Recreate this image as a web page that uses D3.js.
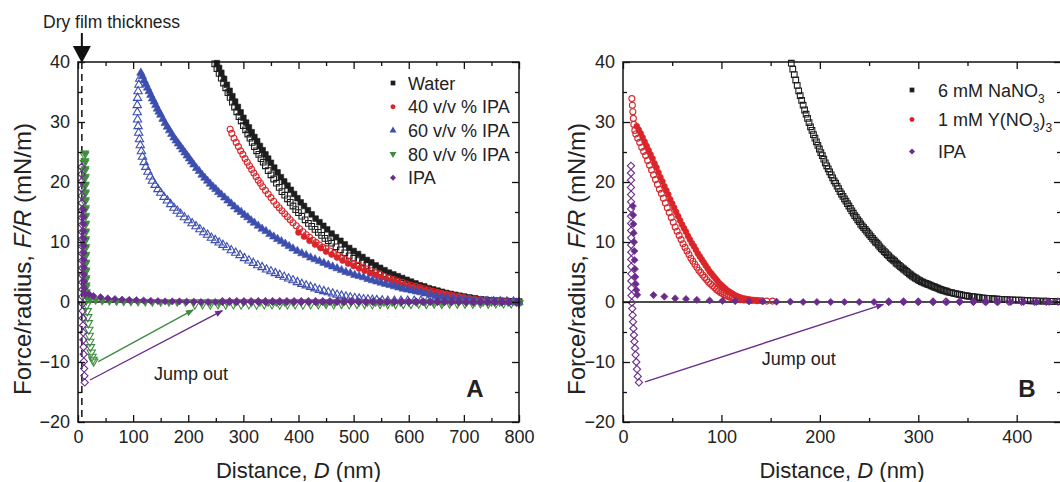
<!DOCTYPE html>
<html>
<head>
<meta charset="utf-8">
<script src="https://cdn.jsdelivr.net/npm/d3@7"></script>
<style>
  body { margin: 0; background: #fff; }
  svg { display: block; }
  text { font-family: "Liberation Sans", Arial, Helvetica, sans-serif; fill: #222; }
</style>
</head>
<body>
<script>
// ---------- data, panel A (D in nm, F/R in mN/m) ----------
var waterApproach = [[252,39.8],[256,39.0],[260,38.2],[265,37.2],[270,36.2],[275,35.2],[280,34.3],[285,33.4],[290,32.5],[295,31.6],[300,30.7],[305,29.9],[310,29.1],[315,28.3],[320,27.5],[325,26.8],[330,26.0],[335,25.3],[340,24.6],[345,23.9],[350,23.2],[356,22.4],[362,21.6],[368,20.8],[374,20.1],[380,19.4],[386,18.7],[392,18.0],[398,17.3],[404,16.6],[410,16.0],[417,15.3],[424,14.6],[431,13.9],[438,13.3],[445,12.7],[452,12.1],[460,11.4],[468,10.8],[476,10.2],[484,9.6],[492,9.0],[500,8.5],[508,8.0],[516,7.5],[524,7.0],[532,6.6],[540,6.1],[548,5.7],[556,5.3],[564,4.9],[572,4.6],[580,4.3],[588,4.0],[596,3.7],[604,3.4],[612,3.1],[620,2.8],[628,2.6],[636,2.3],[644,2.1],[652,1.9],[660,1.7],[668,1.5],[676,1.35],[684,1.2],[692,1.05],[700,0.9],[710,0.75],[720,0.6],[730,0.45],[740,0.35],[750,0.25],[760,0.2],[770,0.15],[780,0.1],[790,0.05],[800,0.05]];
var waterRetract = [[248,39.7],[252,38.9],[256,38.1],[260,37.3],[264,36.5],[268,35.7],[272,34.9],[276,34.1],[280,33.3],[284,32.5],[288,31.7],[292,30.9],[296,30.2],[300,29.4],[304,28.7],[308,28.0],[312,27.3],[316,26.6],[320,25.9],[324,25.2],[328,24.6],[332,23.9],[336,23.3],[340,22.7],[345,21.9],[350,21.2],[355,20.5],[360,19.8],[365,19.1],[370,18.4],[375,17.8],[380,17.2],[385,16.6],[390,16.0],[395,15.4],[400,14.9],[406,14.3],[412,13.7],[418,13.1],[424,12.6],[430,12.1],[436,11.6],[442,11.1],[448,10.6],[454,10.2],[460,9.8],[468,9.2],[476,8.7],[484,8.2],[492,7.7],[500,7.3],[508,6.9],[516,6.5],[524,6.1],[532,5.7],[540,5.4],[548,5.0],[556,4.7],[564,4.4],[572,4.1],[580,3.8],[588,3.5],[596,3.3],[604,3.0],[612,2.8],[620,2.5],[628,2.3],[636,2.1],[644,1.9],[652,1.7],[660,1.5],[668,1.35],[676,1.2],[684,1.05],[692,0.9],[700,0.8],[710,0.65],[720,0.5],[730,0.4],[740,0.3],[750,0.25],[760,0.2],[770,0.15],[780,0.1],[790,0.05],[800,0]];
var ipa40Approach = [[400,11.6],[410,10.9],[420,10.2],[430,9.6],[440,9.0],[450,8.4],[460,7.9],[470,7.4],[480,6.9],[490,6.4],[500,6.0],[510,5.6],[520,5.2],[530,4.8],[540,4.5],[550,4.1],[560,3.8],[570,3.5],[580,3.2],[590,2.9],[600,2.7],[610,2.4],[620,2.2],[630,2.0],[640,1.8],[650,1.6],[660,1.4],[670,1.2],[680,1.05],[690,0.9],[700,0.75],[710,0.6],[720,0.5],[730,0.4],[740,0.3],[750,0.2],[760,0.15],[770,0.1],[780,0.05],[790,0],[800,0]];
var ipa40Retract = [[276,28.8],[279,28.1],[283,27.3],[287,26.6],[291,25.9],[295,25.2],[299,24.6],[303,23.9],[307,23.3],[311,22.7],[315,22.1],[319,21.5],[323,20.9],[327,20.3],[331,19.8],[335,19.2],[340,18.6],[345,18.0],[350,17.4],[355,16.8],[360,16.2],[365,15.7],[370,15.2],[375,14.7],[380,14.2],[385,13.7],[390,13.2],[396,12.7],[402,12.2],[408,11.7],[414,11.2],[420,10.8],[426,10.3],[432,9.9],[438,9.5],[444,9.1],[450,8.9],[457,8.5],[464,8.1],[471,7.8],[478,7.4],[485,7.1],[492,6.8],[500,6.4],[508,6.1],[516,5.8],[524,5.5],[532,5.2],[540,4.9],[548,4.6],[556,4.3],[564,4.0],[572,3.8],[580,3.5],[588,3.3],[596,3.0],[604,2.8],[612,2.6],[620,2.4],[628,2.2],[636,2.0],[644,1.8],[652,1.6],[660,1.45],[668,1.3],[676,1.15],[684,1.0],[692,0.85],[700,0.7],[710,0.55],[720,0.45],[730,0.35],[740,0.25],[750,0.2],[760,0.15],[770,0.1],[780,0.05],[790,0],[800,0]];
var ipa60Approach = [[114,38.2],[117,37.6],[120,36.9],[123,36.3],[126,35.7],[129,35.1],[132,34.5],[135,33.9],[138,33.4],[141,32.8],[144,32.2],[147,31.7],[150,31.2],[154,30.5],[158,29.8],[162,29.2],[166,28.6],[170,28.0],[174,27.4],[178,26.9],[182,26.4],[186,25.9],[190,25.4],[194,24.9],[198,24.4],[202,23.9],[206,23.4],[210,22.9],[215,22.3],[220,21.8],[225,21.2],[230,20.7],[235,20.2],[240,19.7],[245,19.2],[250,18.8],[255,18.3],[260,17.9],[266,17.4],[272,16.9],[278,16.4],[284,15.9],[290,15.4],[296,15.0],[302,14.5],[308,14.1],[314,13.6],[320,13.2],[327,12.7],[334,12.2],[341,11.8],[348,11.3],[355,10.9],[362,10.5],[369,10.1],[376,9.7],[383,9.3],[390,8.9],[398,8.5],[406,8.1],[414,7.8],[422,7.4],[430,7.1],[438,6.8],[446,6.5],[454,6.2],[462,5.9],[470,5.6],[478,5.3],[486,5.0],[494,4.8],[502,4.5],[510,4.3],[518,4.1],[526,3.8],[534,3.6],[542,3.4],[550,3.2],[558,3.0],[566,2.8],[574,2.6],[582,2.4],[590,2.2],[598,2.05],[606,1.9],[614,1.75],[622,1.6],[630,1.4],[640,1.2],[650,1.0],[660,0.85],[670,0.7],[680,0.55],[690,0.45],[700,0.35],[710,0.3],[720,0.25],[730,0.2],[740,0.15],[750,0.1],[760,0.05],[770,0.05],[780,0],[790,0],[800,0]];
var ipa60Retract = [[112,37.2],[110.5,36.2],[109,35.1],[108,34],[107.5,32.8],[107.5,31.6],[108,30.4],[109,29.3],[110,28.2],[111.5,27.1],[113,26.1],[115,25.1],[117,24.2],[120,23.3],[123,22.5],[127,21.7],[131,20.9],[135,20.2],[140,19.5],[145,18.8],[150,18.2],[156,17.5],[162,16.9],[168,16.3],[174,15.7],[180,15.2],[186,14.7],[193,14.1],[200,13.6],[207,13.1],[214,12.6],[221,12.1],[228,11.6],[235,11.2],[242,10.7],[249,10.3],[256,9.9],[263,9.5],[270,9.1],[278,8.6],[286,8.2],[294,7.8],[302,7.3],[310,6.9],[318,6.5],[326,6.1],[334,5.8],[342,5.4],[350,5.1],[358,4.8],[366,4.5],[374,4.2],[382,3.9],[390,3.6],[398,3.3],[406,3.0],[414,2.75],[422,2.5],[430,2.25],[438,2.0],[446,1.8],[454,1.6],[462,1.4],[470,1.2],[478,1.05],[486,0.9],[494,0.75],[502,0.65],[510,0.55],[518,0.45],[526,0.4],[534,0.35],[542,0.3],[552,0.25],[562,0.2],[574,0.2],[586,0.2],[598,0.2],[610,0.2],[622,0.2],[634,0.2],[646,0.2],[658,0.15],[670,0.15],[682,0.15],[694,0.15],[706,0.1],[718,0.1],[730,0.1],[742,0.1],[754,0.1],[766,0.1],[778,0.05],[790,0.05]];
var ipa80Approach = [[12.5,24.8],[12.7,23.5],[12.9,22.2],[13,20.9],[13.1,19.6],[13.2,18.3],[13.3,17],[13.4,15.7],[13.5,14.4],[13.6,13.1],[13.7,11.8],[13.8,10.5],[13.9,9.2],[14,7.9],[14.1,6.6],[14.2,5.3],[14.4,4.0],[14.6,2.8],[15,1.7],[16,0.9],[22,0.5],[32,0.35],[44,0.25],[57,0.2],[70,0.15],[83,0.1],[96,0.1],[109,0.05],[122,0.05],[135,0],[150,0],[165,0],[180,0],[195,0],[210,0],[225,0],[240,0],[255,0],[270,0],[285,0],[300,0],[315,0],[330,0],[345,0],[360,0],[375,0],[390,0],[405,0],[420,0],[435,0],[450,0],[465,0],[480,0],[495,0],[510,0],[525,0],[540,0],[555,0],[570,0],[585,0],[600,0],[615,0],[630,0],[645,0],[660,0],[675,0],[690,0],[705,0],[720,0],[735,0],[750,0],[765,0],[780,0],[795,0]];
var ipa80Retract = [[11.5,24.5],[11.6,23.2],[11.7,21.9],[11.8,20.6],[11.9,19.3],[12,18],[12.1,16.7],[12.2,15.4],[12.3,14.1],[12.4,12.8],[12.5,11.5],[12.6,10.2],[12.7,8.9],[12.8,7.6],[12.9,6.3],[13.1,5.0],[13.3,3.7],[13.6,2.4],[14.2,1.2],[15,0.3],[15.8,-0.5],[16.8,-1.5],[17.8,-2.5],[18.8,-3.5],[19.6,-4.6],[20.4,-5.6],[21.4,-6.6],[22.6,-7.5],[24,-8.4],[25.5,-9.1],[27,-9.6],[28.5,-9.9],[212,-0.4],[226,-0.35],[240,-0.4],[254,-0.35],[268,-0.4],[282,-0.35],[296,-0.4],[310,-0.35],[324,-0.4],[338,-0.35],[352,-0.35],[366,-0.4],[380,-0.35],[394,-0.35],[408,-0.4],[422,-0.35],[436,-0.35],[450,-0.3],[464,-0.35],[478,-0.3],[492,-0.35],[506,-0.3],[520,-0.3],[534,-0.35],[548,-0.3],[562,-0.3],[576,-0.3],[590,-0.3],[604,-0.3],[618,-0.25],[632,-0.3],[646,-0.25],[660,-0.3],[674,-0.25],[688,-0.25],[702,-0.25],[716,-0.25],[730,-0.2],[744,-0.25],[758,-0.2],[772,-0.2],[786,-0.2],[800,-0.2]];
var ipaApproachA = [[9.8,15.4],[9.9,14.2],[10,13],[10.1,11.8],[10.2,10.6],[10.3,9.4],[10.4,8.2],[10.5,7],[10.6,5.8],[10.8,4.6],[11,3.4],[11.3,2.3],[11.8,1.4],[20,1.3],[28,1.0],[41,0.8],[54,0.6],[67,0.5],[80,0.4],[93,0.35],[106,0.3],[119,0.25],[132,0.2],[145,0.15],[158,0.1],[171,0.1],[184,0.1],[197,0.05],[210,0.05],[223,0],[236,0],[249,0],[262,0],[275,0],[288,0],[301,0],[314,0],[327,0],[340,0],[353,0],[366,0],[379,0],[392,0],[405,0],[418,0],[431,0],[444,0],[457,0],[470,0],[483,0],[496,0],[509,0],[522,0],[535,0],[548,0],[561,0],[574,0],[587,0],[600,0],[613,0],[626,0],[639,0],[652,0],[665,0],[678,0],[691,0],[704,0],[717,0],[730,0],[743,0],[756,0],[769,0],[782,0],[795,0]];
var ipaRetractA = [[6.5,22.5],[6.6,21.3],[6.7,20.1],[6.8,18.9],[6.9,17.7],[7,16.5],[7,15.3],[7.1,14.1],[7.1,12.9],[7.2,11.7],[7.2,10.5],[7.3,9.3],[7.3,8.1],[7.4,6.9],[7.5,5.7],[7.6,4.5],[7.7,3.3],[7.8,2.1],[8,0.9],[8.2,-0.3],[8.5,-1.5],[8.8,-2.7],[9.1,-3.9],[9.4,-5.1],[9.7,-6.3],[10,-7.5],[10.3,-8.7],[10.7,-9.9],[11.1,-11.1],[11.6,-12.3],[12.2,-13.4],[262,0.1],[275,0.1],[288,0.1],[301,0.1],[314,0.1],[327,0.1],[340,0.1],[353,0.1],[366,0.1],[379,0.1],[392,0.1],[405,0.1],[418,0.1],[431,0.1],[444,0.1],[457,0.1],[470,0.1],[483,0.1],[496,0.1],[509,0.05],[522,0.05],[535,0.05],[548,0.05],[561,0.05],[574,0.05],[587,0.05],[600,0.05],[613,0.05],[626,0.05],[639,0.05],[652,0.05],[665,0.05],[678,0.05],[691,0.05],[704,0],[717,0],[730,0],[743,0],[756,0],[769,0],[782,0],[795,0]];

// ---------- data, panel B ----------
var nano3Retract = [[171,39.8],[174,37.9],[177,36.1],[180,34.4],[183,32.8],[186,31.3],[189,29.9],[192,28.6],[195,27.3],[198,26.1],[201,24.9],[204,23.8],[207,22.7],[210,21.7],[213,20.7],[216,19.8],[219,18.9],[222,18.0],[225,17.2],[228,16.4],[231,15.6],[234,14.8],[237,14.1],[240,13.4],[243,12.7],[246,12.1],[249,11.5],[252,10.9],[255,10.3],[258,9.8],[261,9.2],[264,8.7],[267,8.2],[270,7.7],[273,7.2],[276,6.8],[279,6.3],[282,5.9],[285,5.5],[288,5.1],[291,4.7],[294,4.3],[297,4.0],[300,3.7],[303,3.4],[306,3.2],[309,3.0],[312,2.8],[315,2.6],[318,2.4],[321,2.2],[324,2.0],[327,1.85],[330,1.7],[334,1.55],[338,1.4],[342,1.25],[346,1.1],[350,1.0],[355,0.9],[360,0.8],[365,0.7],[370,0.6],[375,0.55],[380,0.5],[385,0.45],[390,0.4],[396,0.35],[402,0.3],[408,0.25],[414,0.2],[420,0.2],[427,0.15],[434,0.1],[441,0.1]];
var nano3Approach = [[172.5,38.8],[175.5,37.0],[178.5,35.2],[181.5,33.6],[184.5,32.0],[187.5,30.6],[190.5,29.2],[193.5,27.9],[196.5,26.7],[199.5,25.5],[202.5,24.4],[205.5,23.2],[208.5,22.2],[211.5,21.2],[214.5,20.2],[217.5,19.3],[220.5,18.4],[223.5,17.6],[226.5,16.8],[229.5,16.0],[232.5,15.2],[235.5,14.4],[238.5,13.7],[241.5,13.0],[244.5,12.4],[247.5,11.8],[250.5,11.2],[253.5,10.6],[256.5,10.0],[259.5,9.5],[262.5,8.9],[265.5,8.4],[268.5,7.9],[271.5,7.4],[274.5,7.0],[277.5,6.5],[280.5,6.1],[283.5,5.7],[286.5,5.3],[289.5,4.9],[292.5,4.5],[295.5,4.15],[298.5,3.85],[301.5,3.55],[304.5,3.3],[307.5,3.1],[310.5,2.9],[313.5,2.7],[316.5,2.5],[319.5,2.3],[322.5,2.1],[325.5,1.95],[328.5,1.8],[332,1.6],[336,1.45],[340,1.3],[344,1.2],[348,1.05],[352,0.95],[357,0.85],[362,0.75],[367,0.65],[372,0.6],[377,0.5],[382,0.45],[388,0.4],[393,0.35],[399,0.3],[405,0.3],[411,0.25],[417,0.2],[423,0.15],[430,0.15],[437,0.1],[444,0.05]];
var yno3Approach = [[14,29.3],[16,28.7],[18,28.1],[20,27.4],[22,26.7],[24,26.0],[26,25.3],[28,24.6],[30,23.9],[32,23.1],[34,22.4],[36,21.6],[38,20.8],[40,20.1],[42,19.3],[44,18.6],[46,17.9],[48,17.1],[50,16.4],[52,15.7],[54,15.0],[56,14.3],[58,13.6],[60,12.9],[62,12.3],[64,11.7],[66,11.0],[68,10.4],[70,9.8],[72,9.3],[74,8.7],[76,8.1],[78,7.6],[80,7.1],[82,6.6],[84,6.1],[86,5.6],[88,5.1],[90,4.7],[92,4.3],[94,3.9],[96,3.5],[98,3.1],[100,2.8],[102,2.5],[104,2.2],[106,1.9],[108,1.7],[110,1.5],[112,1.3],[114,1.1],[116,0.95],[118,0.8],[120,0.7],[123,0.6],[126,0.5],[129,0.4],[132,0.35],[135,0.3],[138,0.25]];
var yno3Retract = [[9,33.9],[9.5,32.8],[10,31.7],[10.5,30.6],[11,29.6],[12,28.6],[13,28.0],[15,27.3],[17,26.6],[19,25.8],[21,25.1],[23,24.4],[25,23.6],[27,22.8],[29,22.0],[31,21.2],[33,20.4],[35,19.6],[37,18.8],[39,18.1],[41,17.3],[43,16.5],[45,15.7],[47,14.9],[49,14.1],[51,13.3],[53,12.5],[55,11.8],[57,11.1],[59,10.4],[61,9.7],[63,9.1],[65,8.5],[67,7.9],[69,7.3],[71,6.8],[73,6.3],[75,5.8],[77,5.3],[79,4.9],[81,4.5],[83,4.1],[85,3.7],[87,3.3],[89,3.0],[91,2.7],[93,2.4],[95,2.1],[97,1.85],[99,1.6],[101,1.4],[103,1.2],[105,1.05],[107,0.9],[109,0.8],[111,0.7],[113,0.6],[116,0.5],[119,0.4],[123,0.35],[127,0.3],[131,0.25],[136,0.2],[141,0.2],[146,0.15],[152,0.15]];
var ipaApproachB = [[10,16],[10.3,14.5],[10.6,13],[10.9,11.5],[11.2,10],[11.5,8.5],[11.8,7],[12.1,5.5],[12.5,4.2],[13,3],[13.5,2],[14.5,1.2],[31,1.15],[42,0.9],[53,0.6],[64,0.5],[75,0.35],[88,0.25],[101,0.2],[114,0.15],[128,0.1],[142,0.1],[156,0.05],[170,0.05],[183,0],[197,0],[211,0],[225,0],[240,0],[255,0],[270,0],[285,0],[300,0],[315,0],[329,0],[342,0],[356,0],[369,0],[381,0],[394,0],[407,0],[420,0],[433,0]];
var ipaRetractB = [[8.1,22.7],[8.1,21.5],[8.1,20.3],[8.1,19.1],[8.2,17.9],[8.2,16.7],[8.2,15.5],[8.2,14.3],[8.3,13.1],[8.3,11.9],[8.3,10.7],[8.3,9.5],[8.4,8.3],[8.4,7.1],[8.4,5.9],[8.5,4.7],[8.5,3.5],[8.6,2.3],[8.7,1.1],[9.0,-0.1],[9.4,-1.1],[9.8,-2.2],[10.2,-3.3],[10.6,-4.4],[11.1,-5.5],[11.6,-6.6],[12.2,-7.7],[12.8,-8.8],[13.5,-10.0],[14.2,-11.2],[15,-12.4],[16.2,-13.4],[270,0.05],[285,0.05],[300,0.05],[315,0.05],[328,0.05],[342,0.05],[356,0.05],[368,0.05],[380,0.05],[392,0.05],[405,0.05],[418,0.05],[430,0.05],[442,0.05]];

// annotation values
var dryFilm = 7;
var jumpFromA = [[36.8, -9.95], [21.8, -13.0]];
var jumpToA = [[209, -1.33], [262, -1.45]];
var jumpFromB = [[22.4, -13.3]];
var jumpToB = [[264.5, -0.4]];
var jumpLabelA = [138, -13];
var jumpLabelB = [141, -10.5];

// axis ticks
var yMajor = [-20, -10, 0, 10, 20, 30, 40];
var yMinor = [-15, -5, 5, 15, 25, 35];
var xMajorA = [0, 100, 200, 300, 400, 500, 600, 700, 800];
var xMinorA = [50, 150, 250, 350, 450, 550, 650, 750];
var xMajorB = [0, 100, 200, 300, 400];
var xMinorB = [50, 150, 250, 350];

var legendA = ["Water", "40 v/v % IPA", "60 v/v % IPA", "80 v/v % IPA", "IPA"];
var legendB = [["6 mM NaNO", "3", ""], ["1 mM Y(NO", "3", ")"], ["IPA", "", ""]];

// colours
var cBlack = "#1e1e1e", cRed = "#d9262b", cBlue = "#3d4fae", cGreen = "#3f8c3f", cPurple = "#6a2c8c";

var width = 1060, height = 482;

var svg = d3.select("body")
    .append("svg")
    .attr("width", width)
    .attr("height", height);

var y = d3.scaleLinear().domain([-20, 40]).range([422, 62]);
var xA = d3.scaleLinear().domain([0, 800]).range([78, 519]);
var xB = d3.scaleLinear().domain([0, 445]).range([623, 1061]);

// marker shapes
var shapes = {
    square: {type: d3.symbolSquare, size: 32, rot: 0},
    circle: {type: d3.symbolCircle, size: 28, rot: 0},
    up: {type: d3.symbolTriangle, size: 30, rot: 0},
    down: {type: d3.symbolTriangle, size: 30, rot: 180},
    diamond: {type: d3.symbolSquare, size: 26, rot: 45}
};

var defs = svg.append("defs");
[["gArrow", cGreen], ["pArrow", cPurple]].forEach(function(m) {
    defs.append("marker")
        .attr("id", m[0])
        .attr("viewBox", "0 0 10 10")
        .attr("refX", 9).attr("refY", 5)
        .attr("markerWidth", 10).attr("markerHeight", 8)
        .attr("markerUnits", "userSpaceOnUse")
        .attr("orient", "auto")
        .append("path")
        .attr("d", "M0,1 L10,5 L0,9 Z")
        .style("fill", m[1]);
});

function minus(d) { return d < 0 ? "\u2212" + (-d) : "" + d; }

function zeroLine(x) {
    svg.append("line")
        .attr("x1", x.range()[0]).attr("x2", x.range()[1])
        .attr("y1", y(0)).attr("y2", y(0))
        .style("stroke", "#111").style("stroke-width", 1.3);
}

function plot(x, data, shape, color, filled) {
    var s = shapes[shape];
    svg.append("g").selectAll("path")
        .data(data)
        .enter().append("path")
        .attr("d", d3.symbol().type(s.type).size(s.size))
        .attr("transform", function(d) {
            return "translate(" + x(d[0]) + "," + y(d[1]) + ") rotate(" + s.rot + ")";
        })
        .style("fill", filled ? color : "none")
        .style("stroke", color)
        .style("stroke-width", filled ? 0.6 : 1.1);
}

function frame(x, xMajor, xMinor) {
    var x0 = x.range()[0], x1 = x.range()[1];
    var list = [
        [d3.axisBottom(x).tickValues(xMajor).tickSize(-7).tickPadding(8).tickFormat(d3.format("d")), "translate(0," + y(-20) + ")"],
        [d3.axisBottom(x).tickValues(xMinor).tickSize(-4).tickFormat(""), "translate(0," + y(-20) + ")"],
        [d3.axisTop(x).tickValues(xMajor).tickSize(-7).tickFormat(""), "translate(0," + y(40) + ")"],
        [d3.axisTop(x).tickValues(xMinor).tickSize(-4).tickFormat(""), "translate(0," + y(40) + ")"],
        [d3.axisLeft(y).tickValues(yMajor).tickSize(-7).tickPadding(8).tickFormat(minus), "translate(" + x0 + ",0)"],
        [d3.axisLeft(y).tickValues(yMinor).tickSize(-4).tickFormat(""), "translate(" + x0 + ",0)"],
        [d3.axisRight(y).tickValues(yMajor).tickSize(-7).tickFormat(""), "translate(" + x1 + ",0)"],
        [d3.axisRight(y).tickValues(yMinor).tickSize(-4).tickFormat(""), "translate(" + x1 + ",0)"]
    ];
    list.forEach(function(a) {
        var g = svg.append("g")
            .attr("transform", a[1])
            .call(a[0].tickSizeOuter(0));
        g.attr("font-family", null).attr("font-size", null);
        g.select(".domain").remove();
        g.selectAll("line").style("stroke", "#111").style("stroke-width", 1.3);
        g.selectAll("text").style("font-size", "18px").style("fill", "#222");
    });
    svg.append("rect")
        .attr("x", x0).attr("y", y(40))
        .attr("width", x1 - x0).attr("height", y(-20) - y(40))
        .style("fill", "none").style("stroke", "#111").style("stroke-width", 1.5);
}

function titles(x, yTitleX) {
    var xt = svg.append("text")
        .attr("x", (x.range()[0] + x.range()[1]) / 2)
        .attr("y", 478)
        .attr("text-anchor", "middle")
        .style("font-size", "22px");
    xt.append("tspan").text("Distance, ");
    xt.append("tspan").style("font-style", "italic").text("D");
    xt.append("tspan").text(" (nm)");

    var yt = svg.append("text")
        .attr("transform", "translate(" + yTitleX + ",259) rotate(-90)")
        .attr("text-anchor", "middle")
        .style("font-size", "24px");
    yt.append("tspan").text("Force/radius, ");
    yt.append("tspan").style("font-style", "italic").text("F/R");
    yt.append("tspan").text(" (mN/m)");
}

function jumps(x, from, to, ids) {
    from.forEach(function(f, i) {
        svg.append("line")
            .attr("x1", x(f[0])).attr("y1", y(f[1]))
            .attr("x2", x(to[i][0])).attr("y2", y(to[i][1]))
            .style("stroke", ids[i][1]).style("stroke-width", 1.4)
            .attr("marker-end", "url(#" + ids[i][0] + ")");
    });
}

// ---------- panel A ----------
zeroLine(xA);

// dry film thickness line
svg.append("line")
    .attr("x1", xA(dryFilm)).attr("x2", xA(dryFilm))
    .attr("y1", y(40)).attr("y2", y(-20))
    .style("stroke", "#111").style("stroke-width", 1.5)
    .style("stroke-dasharray", "7,5");

plot(xA, waterApproach, "square", cBlack, true);
plot(xA, waterRetract, "square", cBlack, false);
plot(xA, ipa40Approach, "circle", cRed, true);
plot(xA, ipa40Retract, "circle", cRed, false);
plot(xA, ipa60Approach, "up", cBlue, true);
plot(xA, ipa60Retract, "up", cBlue, false);
plot(xA, ipa80Approach, "down", cGreen, true);
plot(xA, ipa80Retract, "down", cGreen, false);
plot(xA, ipaApproachA, "diamond", cPurple, true);
plot(xA, ipaRetractA, "diamond", cPurple, false);

jumps(xA, jumpFromA, jumpToA, [["gArrow", cGreen], ["pArrow", cPurple]]);

svg.append("text")
    .attr("x", xA(jumpLabelA[0])).attr("y", y(jumpLabelA[1]))
    .style("font-size", "18px")
    .text("Jump out");

frame(xA, xMajorA, xMinorA);
titles(xA, 31);

// arrow and label for dry film
svg.append("line")
    .attr("x1", xA(dryFilm)).attr("x2", xA(dryFilm))
    .attr("y1", 33).attr("y2", 50)
    .style("stroke", "#111").style("stroke-width", 2);
svg.append("path")
    .attr("d", "M" + (xA(dryFilm) - 9) + ",46 L" + (xA(dryFilm) + 9) + ",46 L" + xA(dryFilm) + ",63 Z")
    .style("fill", "#111");
svg.append("text")
    .attr("x", 43).attr("y", 28)
    .style("font-size", "17.5px")
    .text("Dry film thickness");

// legend A
var legShapes = ["square", "circle", "up", "down", "diamond"];
var legColors = [cBlack, cRed, cBlue, cGreen, cPurple];
legendA.forEach(function(t, i) {
    var cy = 83 + i * 23.7;
    var s = shapes[legShapes[i]];
    svg.append("path")
        .attr("d", d3.symbol().type(s.type).size(s.size * 0.7))
        .attr("transform", "translate(393," + cy + ") rotate(" + s.rot + ")")
        .style("fill", legColors[i]);
    svg.append("text")
        .attr("x", 408).attr("y", cy + 6.5)
        .style("font-size", "18px")
        .text(t);
});

svg.append("text")
    .attr("x", 475).attr("y", 397)
    .attr("text-anchor", "middle")
    .style("font-size", "24px").style("font-weight", "bold")
    .text("A");

// ---------- panel B ----------
zeroLine(xB);

plot(xB, nano3Approach, "square", cBlack, false);
plot(xB, nano3Retract, "square", cBlack, false);
plot(xB, yno3Approach, "circle", cRed, true);
plot(xB, yno3Retract, "circle", cRed, false);
plot(xB, ipaApproachB, "diamond", cPurple, true);
plot(xB, ipaRetractB, "diamond", cPurple, false);

jumps(xB, jumpFromB, jumpToB, [["pArrow", cPurple]]);

svg.append("text")
    .attr("x", xB(jumpLabelB[0])).attr("y", y(jumpLabelB[1]))
    .style("font-size", "18px")
    .text("Jump out");

frame(xB, xMajorB, xMinorB);
titles(xB, 585);

// legend B
var legShapesB = ["square", "circle", "diamond"];
var legColorsB = [cBlack, cRed, cPurple];
var legRowsB = [90, 119.5, 151.5];
legendB.forEach(function(t, i) {
    var cy = legRowsB[i];
    var s = shapes[legShapesB[i]];
    svg.append("path")
        .attr("d", d3.symbol().type(s.type).size(s.size * 0.7))
        .attr("transform", "translate(912," + cy + ") rotate(" + s.rot + ")")
        .style("fill", legColorsB[i]);
    var tx = svg.append("text")
        .attr("x", 938).attr("y", cy + 6.5)
        .style("font-size", "18px");
    tx.append("tspan").text(t[0]);
    if (t[1]) tx.append("tspan").attr("dy", 6).style("font-size", "12px").text(t[1]);
    if (t[2]) {
        tx.append("tspan").attr("dy", -6).text(t[2]);
        tx.append("tspan").attr("dy", 6).style("font-size", "12px").text("3");
    }
});

svg.append("text")
    .attr("x", 1027).attr("y", 397)
    .attr("text-anchor", "middle")
    .style("font-size", "24px").style("font-weight", "bold")
    .text("B");
</script>
</body>
</html>
